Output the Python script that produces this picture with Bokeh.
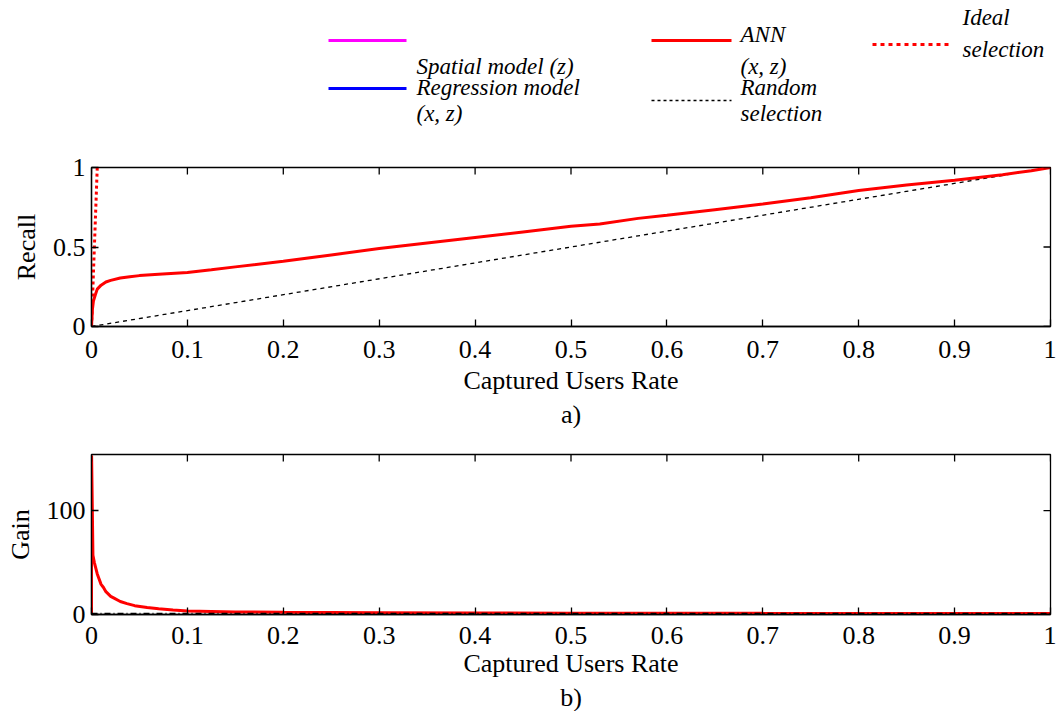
from bokeh.plotting import figure
from bokeh.models import Range1d, FixedTicker, Title
from bokeh.layouts import column
from bokeh.embed import file_html
from bokeh.resources import INLINE
from bokeh.core.properties import value

# ---------------- data ----------------
rate_ann = [0, 0.001, 0.002, 0.004, 0.006, 0.01, 0.015, 0.02, 0.03, 0.04, 0.05, 0.07,
            0.1, 0.125, 0.15, 0.2, 0.25, 0.3, 0.35, 0.4, 0.45, 0.5, 0.53, 0.57, 0.6,
            0.65, 0.7, 0.75, 0.8, 0.85, 0.9, 0.95, 0.98, 1.0]
recall_ann = [0, 0.11, 0.16, 0.2, 0.235, 0.26, 0.28, 0.29, 0.305, 0.313, 0.32, 0.328,
              0.34, 0.357, 0.375, 0.41, 0.45, 0.49, 0.525, 0.56, 0.595, 0.63, 0.645, 0.68, 0.70,
              0.735, 0.77, 0.81, 0.855, 0.89, 0.92, 0.955, 0.98, 1.0]

gain_rate = [0, 0.0001, 0.0015, 0.003, 0.006, 0.01, 0.0125, 0.015, 0.02, 0.023, 0.03,
             0.037, 0.045, 0.058, 0.07, 0.085, 0.1, 0.15, 0.2, 0.3, 0.4, 0.5, 0.6, 0.7,
             0.8, 0.9, 1.0]
gain_ann = [0, 153, 57, 50, 39, 29, 26, 22, 17.5, 16, 12.5, 10.5, 8.5, 6.7, 5.5, 4.3,
            3.4, 2.5, 2.05, 1.63, 1.4, 1.26, 1.17, 1.1, 1.07, 1.02, 1.0]

random_rate = [0, 1]
random_recall = [0, 1]
random_gain = [1, 1]

ideal_rate = [0, 0.006]
ideal_recall = [0, 1]

x_ticks = [0, 0.1, 0.2, 0.3, 0.4, 0.5, 0.6, 0.7, 0.8, 0.9, 1]
x_tick_labels = ["0", "0.1", "0.2", "0.3", "0.4", "0.5", "0.6", "0.7", "0.8", "0.9", "1"]
recall_ticks = [0, 0.5, 1]
recall_tick_labels = ["0", "0.5", "1"]
gain_ticks = [0, 100]
gain_tick_labels = ["0", "100"]
gain_max = 154

legend_names = ["Spatial model (z)", "Regression model\n(x, z)", "ANN\n(x, z)",
                "Random\nselection", "Ideal\nselection"]
legend_colors = ["#ff00ff", "#0000ff", "#ff0000", "#000000", "#ff0000"]

# ---------------- styling ----------------
SERIF = "Liberation Serif"
FS = "26px"
RED = "#ff0000"
W = 1056
BL, BR = 91, 6
FRAME_W = W - BL - BR
FRAME_H = 160
TICK = 7


def style_plot(p, yticks, ylabels, ylabel, panel, ymax, lab_standoff, axlab_standoff):
    p.grid.visible = False
    p.outline_line_color = "black"
    p.outline_line_width = 1.3
    xa = p.xaxis[0]
    ya = p.yaxis[0]
    xa.ticker = FixedTicker(ticks=x_ticks)
    xa.major_label_overrides = {t: l for t, l in zip(x_ticks, x_tick_labels)}
    ya.ticker = FixedTicker(ticks=yticks)
    ya.major_label_overrides = {t: l for t, l in zip(yticks, ylabels)}
    xa.axis_label = "Captured Users Rate"
    ya.axis_label = ylabel
    for ax in (xa, ya):
        ax.major_label_text_font = SERIF
        ax.major_label_text_font_size = FS
        ax.major_label_text_color = "black"
        ax.axis_label_text_font = SERIF
        ax.axis_label_text_font_size = FS
        ax.axis_label_text_font_style = "normal"
        ax.axis_label_text_color = "black"
        ax.major_tick_in = TICK
        ax.major_tick_out = 0
        ax.minor_tick_line_color = None
        ax.axis_line_color = "black"
        ax.axis_line_width = 1.3
        ax.major_tick_line_color = "black"
        ax.major_tick_line_width = 1.3
    xa.major_label_standoff = lab_standoff
    xa.axis_label_standoff = axlab_standoff
    ya.major_label_standoff = 6
    ya.axis_label_standoff = 9
    # mirrored inward ticks on the top and right edges
    dy = ymax * TICK / FRAME_H
    dx = TICK / FRAME_W
    p.segment(x0=x_ticks, y0=[ymax] * len(x_ticks), x1=x_ticks, y1=[ymax - dy] * len(x_ticks),
              line_color="black", line_width=1.3)
    p.segment(x0=[1] * len(yticks), y0=yticks, x1=[1 - dx] * len(yticks), y1=yticks,
              line_color="black", line_width=1.3)
    p.add_layout(Title(text=panel, align="center", text_font=SERIF,
                       text_font_size=FS, text_font_style="normal", text_color="black",
                       standoff=0, offset=0), "below")


# ---------------- legend strip (coordinates = page pixels) ----------------
LEG_H = 140
leg = figure(width=W, height=LEG_H, x_range=Range1d(BL, BL + FRAME_W),
             y_range=Range1d(LEG_H, 0),
             output_backend="svg", toolbar_location=None, min_border=0,
             min_border_left=BL, min_border_right=BR)
leg.axis.visible = False
leg.grid.visible = False
leg.outline_line_color = None

# entry layout: (line x0, line x1, line y, text x, [text line ys])
layout = [(328, 406, 40, 416, [66]),
          (328, 406, 88, 416, [87, 113]),
          (651, 731, 40, 740, [34, 66]),
          (651, 731, 100, 740, [87, 113]),
          (872, 952, 44, 962, [17, 49])]
dashes = ["solid", "solid", "solid", "3 3", "4 4"]
for (x0, x1, ly, tx, tys), name, col, dsh in zip(layout, legend_names, legend_colors, dashes):
    lw = 1.3 if col == "#000000" else 3
    leg.line([x0, x1], [ly, ly], line_color=col, line_width=lw, line_dash=dsh)
    parts = name.split("\n")
    leg.text(x=[tx] * len(parts), y=tys, text=parts, text_font=value(SERIF),
             text_font_style="italic", text_font_size="23px", text_color="black",
             text_baseline="middle", text_align="left")

# ---------------- panel a ----------------
p1 = figure(width=W, height=288, x_range=Range1d(0, 1), y_range=Range1d(0, 1),
            output_backend="svg", toolbar_location=None,
            min_border_left=BL, min_border_right=BR, min_border_top=27, min_border_bottom=101)
p1.line(random_rate, random_recall, line_color="black", line_width=1.3, line_dash="4 4")
p1.line(rate_ann, recall_ann, line_color=RED, line_width=3)
p1.line(ideal_rate, ideal_recall, line_color=RED, line_width=3, line_dash="3 3")
style_plot(p1, recall_ticks, recall_tick_labels, "Recall", "a)", 1, 14, 5)

# ---------------- panel b ----------------
p2 = figure(width=W, height=283, x_range=Range1d(0, 1), y_range=Range1d(0, gain_max),
            output_backend="svg", toolbar_location=None,
            min_border_left=BL, min_border_right=BR, min_border_top=26, min_border_bottom=97)
p2.line(gain_rate, gain_ann, line_color=RED, line_width=3)
p2.line(random_rate, random_gain, line_color="black", line_width=1.3, line_dash="6 3 1 3")
style_plot(p2, gain_ticks, gain_tick_labels, "Gain", "b)", gain_max, 12, 2)

page = column(leg, p1, p2, spacing=0)
open("out.html", "w").write(file_html(page, INLINE))
